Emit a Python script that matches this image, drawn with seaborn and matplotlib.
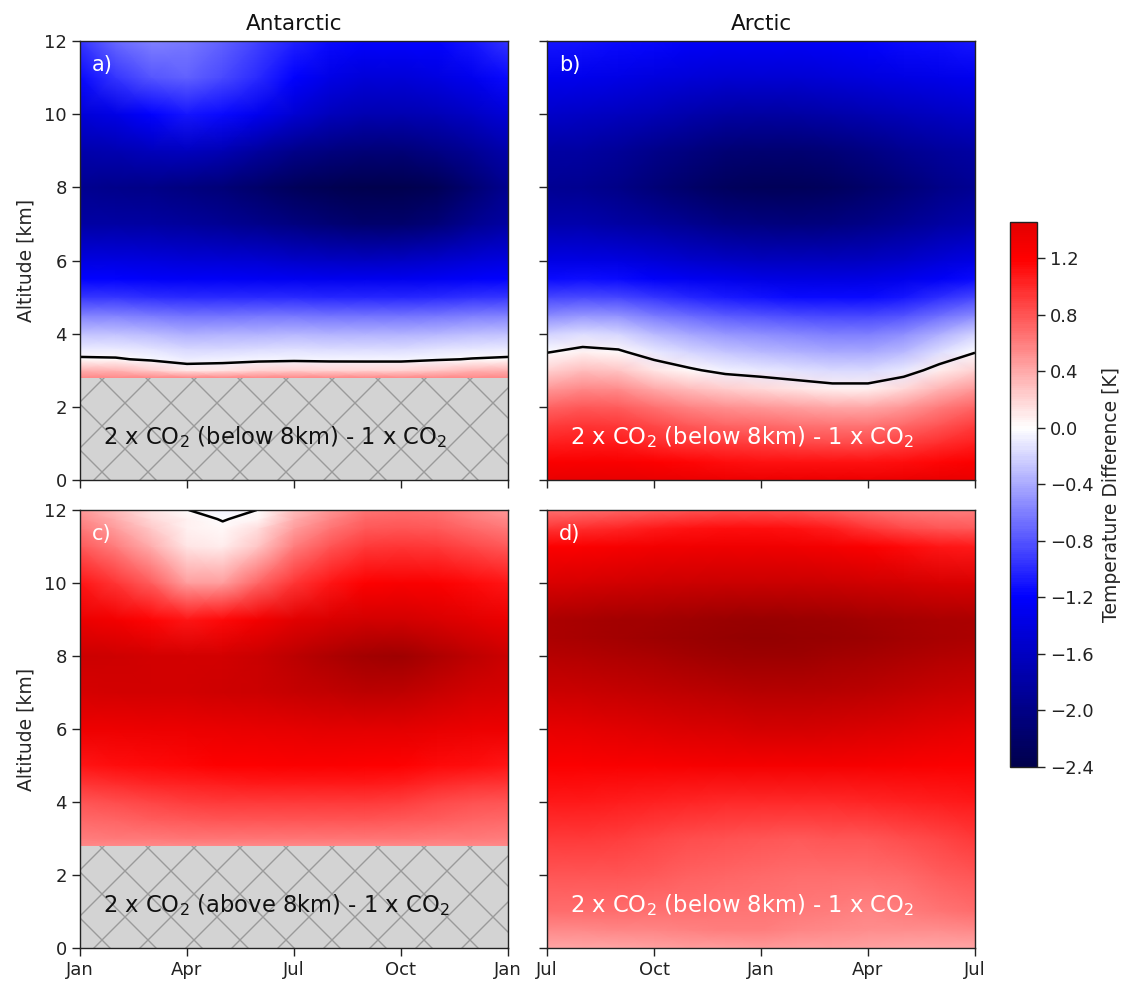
import numpy as np
import matplotlib
matplotlib.use("Agg")
import matplotlib.pyplot as plt
import seaborn as sns
from matplotlib.colors import Normalize, ListedColormap
from matplotlib.cm import ScalarMappable
from matplotlib.collections import LineCollection

# ---------------- data ----------------
months = [0, 1, 2, 3, 4, 5, 6, 7, 8, 9, 10, 11, 12]  # months from start of axis
month_ticks = [0, 3, 6, 9, 12]
labels_antarctic = ["Jan", "Apr", "Jul", "Oct", "Jan"]
labels_arctic = ["Jul", "Oct", "Jan", "Apr", "Jul"]
alt_ticks = [0, 2, 4, 6, 8, 10, 12]
cbar_ticks = [-2.4, -2.0, -1.6, -1.2, -0.8, -0.4, 0.0, 0.4, 0.8, 1.2]
ground_top = 2.8  # Antarctic plateau (km)

alt_a = [2.8, 3.0, 3.3, 3.6, 4.0, 4.5, 5.0, 5.5, 6.0, 7.0, 8.0, 9.0, 10.0, 11.0, 12.0]
temp_a = [
    [0.55, 0.55, 0.55, 0.55, 0.55, 0.55, 0.55, 0.55, 0.55, 0.55, 0.55, 0.55, 0.55],
    [0.36, 0.35, 0.24, 0.11, 0.13, 0.19, 0.22, 0.20, 0.19, 0.19, 0.26, 0.34, 0.36],
    [0.03, 0.02, -0.03, -0.08, -0.07, -0.05, -0.04, -0.05, -0.05, -0.05, -0.02, 0.01, 0.03],
    [-0.11, -0.11, -0.15, -0.20, -0.19, -0.17, -0.16, -0.17, -0.17, -0.17, -0.14, -0.12, -0.11],
    [-0.30, -0.30, -0.33, -0.38, -0.37, -0.36, -0.35, -0.36, -0.36, -0.36, -0.34, -0.31, -0.30],
    [-0.60, -0.60, -0.63, -0.66, -0.66, -0.65, -0.65, -0.66, -0.66, -0.66, -0.64, -0.61, -0.60],
    [-0.95, -0.95, -0.98, -1.00, -1.00, -1.00, -1.00, -1.02, -1.02, -1.02, -1.00, -0.97, -0.95],
    [-1.20, -1.20, -1.22, -1.24, -1.25, -1.26, -1.28, -1.30, -1.30, -1.30, -1.27, -1.22, -1.20],
    [-1.40, -1.40, -1.42, -1.45, -1.47, -1.50, -1.55, -1.58, -1.60, -1.58, -1.52, -1.45, -1.40],
    [-1.80, -1.80, -1.83, -1.87, -1.92, -1.98, -2.05, -2.12, -2.18, -2.18, -2.10, -1.95, -1.80],
    [-1.95, -1.97, -2.00, -2.05, -2.10, -2.20, -2.30, -2.36, -2.40, -2.40, -2.33, -2.15, -1.95],
    [-1.75, -1.72, -1.65, -1.62, -1.70, -1.85, -1.98, -2.05, -2.10, -2.10, -2.02, -1.90, -1.75],
    [-1.45, -1.35, -1.20, -1.10, -1.15, -1.30, -1.50, -1.65, -1.72, -1.72, -1.68, -1.58, -1.45],
    [-1.15, -0.95, -0.80, -0.75, -0.85, -1.00, -1.20, -1.35, -1.45, -1.45, -1.40, -1.30, -1.15],
    [-0.95, -0.70, -0.60, -0.62, -0.75, -0.90, -1.05, -1.15, -1.20, -1.20, -1.20, -1.10, -0.95],
]

alt_b = [0.0, 0.5, 1.0, 1.5, 2.0, 2.5, 3.0, 3.5, 4.0, 4.5, 5.0, 5.5, 6.0, 7.0, 8.0, 9.0, 10.0, 11.0, 12.0]
temp_b = [
    [1.40, 1.42, 1.42, 1.40, 1.38, 1.36, 1.35, 1.35, 1.35, 1.36, 1.38, 1.40, 1.40],
    [1.22, 1.24, 1.24, 1.20, 1.17, 1.14, 1.12, 1.12, 1.12, 1.12, 1.14, 1.18, 1.22],
    [1.05, 1.08, 1.07, 1.00, 0.95, 0.92, 0.90, 0.88, 0.86, 0.86, 0.90, 0.98, 1.05],
    [0.90, 0.95, 0.93, 0.85, 0.78, 0.73, 0.70, 0.67, 0.64, 0.64, 0.70, 0.80, 0.90],
    [0.72, 0.78, 0.76, 0.66, 0.57, 0.51, 0.48, 0.44, 0.41, 0.41, 0.48, 0.60, 0.72],
    [0.48, 0.56, 0.53, 0.41, 0.31, 0.23, 0.18, 0.12, 0.07, 0.07, 0.18, 0.35, 0.48],
    [0.22, 0.31, 0.28, 0.13, 0.03, -0.06, -0.10, -0.14, -0.18, -0.18, -0.10, 0.08, 0.22],
    [-0.01, 0.06, 0.03, -0.10, -0.20, -0.28, -0.32, -0.36, -0.40, -0.40, -0.32, -0.16, -0.01],
    [-0.22, -0.16, -0.19, -0.32, -0.42, -0.50, -0.54, -0.58, -0.61, -0.61, -0.54, -0.38, -0.22],
    [-0.55, -0.50, -0.52, -0.62, -0.70, -0.77, -0.82, -0.86, -0.88, -0.88, -0.82, -0.68, -0.55],
    [-0.88, -0.85, -0.87, -0.95, -1.02, -1.08, -1.12, -1.15, -1.16, -1.15, -1.10, -0.98, -0.88],
    [-1.15, -1.13, -1.15, -1.22, -1.28, -1.33, -1.37, -1.39, -1.40, -1.38, -1.33, -1.24, -1.15],
    [-1.38, -1.37, -1.40, -1.46, -1.52, -1.58, -1.62, -1.63, -1.63, -1.60, -1.55, -1.46, -1.38],
    [-1.75, -1.76, -1.80, -1.87, -1.95, -2.02, -2.06, -2.07, -2.05, -2.00, -1.93, -1.83, -1.75],
    [-1.92, -1.95, -2.00, -2.10, -2.20, -2.28, -2.32, -2.32, -2.28, -2.20, -2.10, -2.00, -1.92],
    [-1.80, -1.83, -1.88, -1.97, -2.05, -2.12, -2.15, -2.14, -2.10, -2.03, -1.95, -1.87, -1.80],
    [-1.55, -1.58, -1.62, -1.68, -1.75, -1.80, -1.82, -1.80, -1.77, -1.72, -1.66, -1.60, -1.55],
    [-1.30, -1.33, -1.36, -1.41, -1.46, -1.50, -1.50, -1.49, -1.46, -1.42, -1.38, -1.34, -1.30],
    [-1.10, -1.12, -1.15, -1.18, -1.22, -1.25, -1.25, -1.24, -1.22, -1.19, -1.16, -1.13, -1.10],
]

alt_c = [2.8, 3.0, 3.5, 4.0, 4.5, 5.0, 6.0, 7.0, 8.0, 9.0, 10.0, 11.0, 11.5, 11.75, 12.0]
temp_c = [
    [0.55, 0.55, 0.55, 0.55, 0.55, 0.55, 0.55, 0.55, 0.55, 0.55, 0.55, 0.55, 0.55],
    [0.60, 0.62, 0.63, 0.64, 0.65, 0.65, 0.65, 0.65, 0.65, 0.65, 0.63, 0.62, 0.60],
    [0.70, 0.73, 0.76, 0.78, 0.80, 0.80, 0.80, 0.80, 0.80, 0.78, 0.75, 0.72, 0.70],
    [0.80, 0.84, 0.88, 0.90, 0.92, 0.93, 0.93, 0.93, 0.92, 0.90, 0.86, 0.82, 0.80],
    [0.95, 0.99, 1.02, 1.04, 1.06, 1.07, 1.08, 1.08, 1.07, 1.05, 1.01, 0.97, 0.95],
    [1.10, 1.13, 1.16, 1.18, 1.20, 1.21, 1.22, 1.22, 1.21, 1.19, 1.16, 1.13, 1.10],
    [1.35, 1.36, 1.37, 1.38, 1.39, 1.41, 1.43, 1.45, 1.46, 1.45, 1.42, 1.38, 1.35],
    [1.58, 1.60, 1.62, 1.63, 1.65, 1.68, 1.73, 1.78, 1.82, 1.80, 1.72, 1.63, 1.58],
    [1.68, 1.66, 1.62, 1.60, 1.62, 1.70, 1.82, 1.95, 2.08, 2.10, 1.95, 1.80, 1.68],
    [1.38, 1.30, 1.18, 1.10, 1.15, 1.30, 1.45, 1.55, 1.60, 1.60, 1.55, 1.45, 1.38],
    [1.10, 0.95, 0.75, 0.45, 0.45, 0.72, 0.95, 1.10, 1.20, 1.25, 1.22, 1.15, 1.10],
    [0.78, 0.60, 0.38, 0.12, 0.08, 0.28, 0.60, 0.80, 0.92, 0.95, 0.93, 0.85, 0.78],
    [0.62, 0.45, 0.25, 0.07, 0.03, 0.15, 0.45, 0.65, 0.78, 0.80, 0.78, 0.70, 0.62],
    [0.55, 0.38, 0.18, 0.06, -0.01, 0.05, 0.38, 0.58, 0.72, 0.74, 0.72, 0.63, 0.55],
    [0.48, 0.30, 0.12, 0.003, -0.06, 0.003, 0.30, 0.50, 0.65, 0.68, 0.66, 0.57, 0.48],
]

alt_d = [0.0, 0.5, 1.0, 2.0, 3.0, 4.0, 5.0, 6.0, 7.0, 8.0, 8.5, 9.0, 10.0, 11.0, 11.5, 12.0]
temp_d = [
    [0.42, 0.42, 0.43, 0.44, 0.45, 0.46, 0.47, 0.46, 0.45, 0.44, 0.43, 0.42, 0.42],
    [0.55, 0.56, 0.57, 0.58, 0.59, 0.60, 0.60, 0.58, 0.55, 0.53, 0.53, 0.54, 0.55],
    [0.68, 0.68, 0.68, 0.67, 0.66, 0.65, 0.64, 0.62, 0.60, 0.58, 0.60, 0.64, 0.68],
    [0.80, 0.80, 0.79, 0.77, 0.74, 0.72, 0.70, 0.69, 0.68, 0.68, 0.70, 0.75, 0.80],
    [0.92, 0.92, 0.90, 0.87, 0.84, 0.81, 0.79, 0.78, 0.79, 0.80, 0.83, 0.88, 0.92],
    [1.08, 1.07, 1.06, 1.04, 1.02, 1.00, 1.00, 1.00, 1.00, 1.02, 1.04, 1.06, 1.08],
    [1.22, 1.23, 1.24, 1.25, 1.27, 1.28, 1.29, 1.29, 1.28, 1.27, 1.25, 1.23, 1.22],
    [1.42, 1.44, 1.47, 1.50, 1.54, 1.57, 1.60, 1.60, 1.58, 1.55, 1.50, 1.46, 1.42],
    [1.68, 1.70, 1.73, 1.77, 1.81, 1.85, 1.88, 1.88, 1.86, 1.82, 1.77, 1.72, 1.68],
    [1.88, 1.91, 1.95, 2.00, 2.05, 2.10, 2.13, 2.12, 2.08, 2.03, 1.97, 1.92, 1.88],
    [1.98, 2.02, 2.06, 2.10, 2.14, 2.18, 2.20, 2.19, 2.16, 2.12, 2.06, 2.01, 1.98],
    [1.98, 2.01, 2.05, 2.08, 2.11, 2.14, 2.16, 2.15, 2.12, 2.08, 2.03, 1.99, 1.98],
    [1.55, 1.58, 1.62, 1.65, 1.68, 1.70, 1.70, 1.70, 1.68, 1.64, 1.60, 1.56, 1.55],
    [1.20, 1.22, 1.26, 1.30, 1.33, 1.34, 1.34, 1.32, 1.28, 1.22, 1.15, 1.10, 1.08],
    [0.95, 0.98, 1.03, 1.08, 1.12, 1.14, 1.14, 1.12, 1.05, 0.95, 0.85, 0.80, 0.78],
    [0.66, 0.68, 0.72, 0.76, 0.80, 0.84, 0.84, 0.82, 0.76, 0.68, 0.62, 0.60, 0.60],
]

panel_letters = ["a)", "b)", "c)", "d)"]
panel_texts = [
    r"2 x CO$_2$ (below 8km) - 1 x CO$_2$",
    r"2 x CO$_2$ (below 8km) - 1 x CO$_2$",
    r"2 x CO$_2$ (above 8km) - 1 x CO$_2$",
    r"2 x CO$_2$ (below 8km) - 1 x CO$_2$",
]
column_titles = ["Antarctic", "Arctic"]

# ---------------- style ----------------
sns.set_style("ticks")
plt.rcParams["font.family"] = ["DejaVu Sans"]
plt.rcParams["axes.edgecolor"] = "#222222"
plt.rcParams["axes.linewidth"] = 1.0
plt.rcParams["text.color"] = "#111111"
plt.rcParams["xtick.color"] = "#222222"
plt.rcParams["ytick.color"] = "#222222"

vlim = 2.4
cmap = plt.get_cmap("seismic")
norm = Normalize(-vlim, vlim)

W, H = 1129, 985
fig = plt.figure(figsize=(W / 100, H / 100), dpi=100)


def fpos(left, top, right, bottom):
    return [left / W, 1 - bottom / H, (right - left) / W, (bottom - top) / H]


positions = [
    fpos(80, 41, 508, 480),
    fpos(547, 41, 975, 480),
    fpos(80, 510, 508, 948),
    fpos(547, 510, 975, 948),
]
tables = [(alt_a, temp_a), (alt_b, temp_b), (alt_c, temp_c), (alt_d, temp_d)]
text_colors = ["#111111", "white", "#111111", "white"]


def add_hatch(ax):
    span = ax.axhspan(0, ground_top, facecolor="#d3d3d3", edgecolor="none", zorder=3, lw=0)
    bb = ax.get_position()
    wpx = bb.width * W
    hpx = bb.height * H
    period = 46.0
    segs = []
    for k in range(-20, 25):
        c = 32 + period * k
        segs.append([(-50 / wpx, (c - 50) / hpx), ((wpx + 50) / wpx, (c + wpx + 50) / hpx)])
        c2 = 30 + period * k
        segs.append([(-50 / wpx, (c2 + 50) / hpx), ((wpx + 50) / wpx, (c2 - wpx - 50) / hpx)])
    lc = LineCollection(segs, colors="#9a9a9a", linewidths=1.0, transform=ax.transAxes, zorder=4)
    ax.add_collection(lc, autolim=False)
    lc.set_clip_path(span)


for i, (pos, (alts, temps)) in enumerate(zip(positions, tables)):
    ax = fig.add_axes(pos)
    X, Y = np.meshgrid(months, alts)
    Z = np.array(temps)
    ax.pcolormesh(X, Y, Z, shading="gouraud", cmap=cmap, norm=norm, zorder=1)
    ax.contour(X, Y, Z, levels=[0.0], colors="black", linewidths=1.8, zorder=2)
    ax.set_xlim(0, 12)
    ax.set_ylim(0, 12)
    if i in (0, 2):
        add_hatch(ax)
    ax.set_xticks(month_ticks)
    ax.set_yticks(alt_ticks)
    ax.tick_params(axis="both", labelsize=13, length=6, width=1.0, direction="out")
    if i in (0, 1):
        ax.set_xticklabels([])
        ax.set_title(column_titles[i], fontsize=15.5, pad=8)
    else:
        ax.set_xticklabels(labels_antarctic if i == 2 else labels_arctic)
    if i in (0, 2):
        ax.set_ylabel("Altitude [km]", fontsize=13.5, labelpad=6)
    else:
        ax.set_yticklabels([])
    for sp in ax.spines.values():
        sp.set_zorder(6)
    ax.text(0.028, 0.945, panel_letters[i], transform=ax.transAxes, color="white",
            fontsize=15, va="center", ha="left", zorder=7)
    ax.text(0.054, 0.098, panel_texts[i], transform=ax.transAxes, color=text_colors[i],
            fontsize=16.3, va="center", ha="left", zorder=7)

# colorbar covering the plotted range
cb_top = 1.455
n_lo, n_hi = norm(-vlim), norm(cb_top)
cb_cmap = ListedColormap(cmap(np.linspace(n_lo, n_hi, 256)))
sm = ScalarMappable(norm=Normalize(-vlim, cb_top), cmap=cb_cmap)
cax = fig.add_axes(fpos(1010, 222, 1037, 767))
cb = fig.colorbar(sm, cax=cax)
cb.set_ticks(cbar_ticks)
cb.ax.tick_params(labelsize=13, length=6, width=1.0)
cb.outline.set_linewidth(1.0)
cb.set_label("Temperature Difference [K]", fontsize=13.5, labelpad=6)

fig.savefig("out.png", dpi=100)
